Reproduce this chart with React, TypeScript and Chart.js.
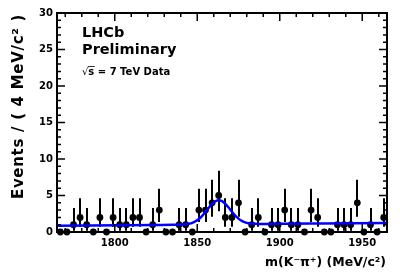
import React, { useEffect, useRef } from "react";
import { Chart, registerables } from "chart.js";

Chart.register(...registerables);

// Bin centres (MeV/c^2), 4 MeV bins from 1765 to 1965
const BIN_CENTERS = [
  1767, 1771, 1775, 1779, 1783, 1787, 1791, 1795, 1799, 1803,
  1807, 1811, 1815, 1819, 1823, 1827, 1831, 1835, 1839, 1843,
  1847, 1851, 1855, 1859, 1863, 1867, 1871, 1875, 1879, 1883,
  1887, 1891, 1895, 1899, 1903, 1907, 1911, 1915, 1919, 1923,
  1927, 1931, 1935, 1939, 1943, 1947, 1951, 1955, 1959, 1963,
];
// Events per bin
const COUNTS = [
  0, 0, 1, 2, 1, 0, 2, 0, 2, 1,
  1, 2, 2, 0, 1, 3, 0, 0, 1, 1,
  0, 3, 3, 4, 5, 2, 2, 4, 0, 1,
  2, 0, 1, 1, 3, 1, 1, 0, 3, 2,
  0, 0, 1, 1, 1, 4, 0, 1, 0, 2,
];
// Poisson interval bounds indexed by count (as drawn)
const POISSON_HI = [0, 3.3, 4.64, 5.92, 7.16, 8.38];
const POISSON_LO = [0, 0.17, 0.71, 1.37, 2.09, 2.84];

// Fit curve
const FIT_MASS = [
  1765, 1785, 1805, 1825, 1835, 1839, 1843, 1845, 1847, 1849,
  1851, 1853, 1855, 1857, 1859, 1861, 1863, 1865, 1867, 1869,
  1871, 1873, 1875, 1877, 1879, 1881, 1883, 1887, 1891, 1905,
  1925, 1945, 1965,
];
const FIT_VALUE = [
  0.85, 0.89, 0.93, 0.97, 0.99, 1.01, 1.07, 1.13, 1.25, 1.47,
  1.78, 2.22, 2.75, 3.32, 3.84, 4.21, 4.35, 4.22, 3.85, 3.35,
  2.78, 2.26, 1.83, 1.52, 1.32, 1.2, 1.15, 1.1, 1.1, 1.13,
  1.17, 1.21, 1.25,
];

const X_MIN = 1765;
const X_MAX = 1965;
const Y_MIN = 0;
const Y_MAX = 30;
const X_MAJOR = [1800, 1850, 1900, 1950];
const Y_MAJOR = [0, 5, 10, 15, 20, 25, 30];

const FONT = '"DejaVu Sans", sans-serif';

export default function App() {
  const ref = useRef<HTMLCanvasElement>(null);

  useEffect(() => {
    if (!ref.current) return;

    const errorBars = {
      id: "errorBars",
      beforeDatasetsDraw(chart: any) {
        const { ctx } = chart;
        const xs = chart.scales.x;
        const ys = chart.scales.y;
        ctx.save();
        ctx.strokeStyle = "#000";
        ctx.lineWidth = 2;
        BIN_CENTERS.forEach((m, i) => {
          const n = COUNTS[i];
          if (n <= 0) return;
          const px = Math.round(xs.getPixelForValue(m));
          ctx.beginPath();
          ctx.moveTo(px, ys.getPixelForValue(POISSON_LO[n]));
          ctx.lineTo(px, ys.getPixelForValue(POISSON_HI[n]));
          ctx.stroke();
        });
        ctx.restore();
      },
    };

    const frame = {
      id: "frame",
      afterDraw(chart: any) {
        const { ctx, chartArea: a } = chart;
        const xs = chart.scales.x;
        const ys = chart.scales.y;
        ctx.save();
        ctx.strokeStyle = "#000";
        ctx.lineWidth = 1.5;
        // minor + major ticks, inward, all four sides
        for (let v = X_MIN + 5; v < X_MAX; v += 10) {
          const px = xs.getPixelForValue(v);
          const len = X_MAJOR.includes(v) ? 8 : 4;
          ctx.beginPath();
          ctx.moveTo(px, a.bottom);
          ctx.lineTo(px, a.bottom - len);
          ctx.moveTo(px, a.top);
          ctx.lineTo(px, a.top + len);
          ctx.stroke();
        }
        for (let v = Y_MIN + 1; v < Y_MAX; v += 1) {
          const py = ys.getPixelForValue(v);
          const len = Y_MAJOR.includes(v) ? 8 : 4;
          ctx.beginPath();
          ctx.moveTo(a.left, py);
          ctx.lineTo(a.left + len, py);
          ctx.moveTo(a.right, py);
          ctx.lineTo(a.right - len, py);
          ctx.stroke();
        }
        ctx.lineWidth = 2;
        ctx.strokeRect(a.left, a.top, a.right - a.left, a.bottom - a.top);

        // texts
        ctx.fillStyle = "#000";
        ctx.textAlign = "left";
        ctx.textBaseline = "alphabetic";
        ctx.font = `bold 14.5px ${FONT}`;
        ctx.fillText("LHCb", 82, 37);
        ctx.fillText("Preliminary", 82, 54);
        ctx.font = `10px ${FONT}`;
        ctx.fillText("\u221A", 82, 75);
        const rw = ctx.measureText("\u221A").width;
        ctx.font = `bold 10px ${FONT}`;
        const sx = 82 + rw;
        ctx.fillText("s = 7 TeV Data", sx, 75);
        const sw = ctx.measureText("s").width;
        ctx.lineWidth = 0.8;
        ctx.beginPath();
        ctx.moveTo(sx - 0.5, 66.5);
        ctx.lineTo(sx + sw + 0.5, 66.5);
        ctx.stroke();

        // x title
        ctx.font = `bold 12.5px ${FONT}`;
        ctx.textAlign = "right";
        ctx.fillText("m(K\u207B\u03C0\u207A) (MeV/c\u00B2)", 386, 266);

        // y title
        ctx.save();
        ctx.translate(23, 14);
        ctx.rotate(-Math.PI / 2);
        ctx.textAlign = "right";
        ctx.font = `bold 15px ${FONT}`;
        (ctx as any).letterSpacing = "0.7px";
        ctx.fillText("Events / ( 4 MeV/c\u00B2 )", 0, 0);
        ctx.restore();
        ctx.restore();
      },
    };

    const chart = new Chart(ref.current, {
      type: "scatter",
      data: {
        datasets: [
          {
            type: "line",
            label: "fit",
            data: FIT_MASS.map((m, i) => ({ x: m, y: FIT_VALUE[i] })),
            borderColor: "#0000ff",
            borderWidth: 2.5,
            pointRadius: 0,
            cubicInterpolationMode: "monotone",
            fill: false,
            order: 0,
          } as any,
          {
            type: "scatter",
            label: "data",
            data: BIN_CENTERS.map((m, i) => ({ x: m, y: COUNTS[i] })),
            pointRadius: 3.4,
            pointBackgroundColor: "#000",
            pointBorderWidth: 0,
            clip: false,
            order: 1,
          } as any,
        ],
      },
      options: {
        animation: false,
        responsive: false,
        devicePixelRatio: 1,
        layout: { padding: { top: 13, right: 20, left: 0, bottom: 0 } },
        plugins: {
          legend: { display: false },
          tooltip: { enabled: false },
        },
        scales: {
          x: {
            type: "linear",
            min: X_MIN,
            max: X_MAX,
            grid: { display: false, drawTicks: false },
            border: { display: false },
            afterBuildTicks: (s: any) => {
              s.ticks = X_MAJOR.map((v) => ({ value: v }));
            },
            afterFit: (s: any) => {
              s.height = 44;
            },
            ticks: {
              padding: 5,
              color: "#000",
              maxRotation: 0,
              font: { family: FONT, size: 10, weight: "bold" },
              callback: (v: any) => String(v),
            },
          },
          y: {
            type: "linear",
            min: Y_MIN,
            max: Y_MAX,
            grid: { display: false, drawTicks: false },
            border: { display: false },
            afterBuildTicks: (s: any) => {
              s.ticks = Y_MAJOR.map((v) => ({ value: v }));
            },
            afterFit: (s: any) => {
              s.width = 57;
            },
            ticks: {
              padding: 4,
              color: "#000",
              font: { family: FONT, size: 10, weight: "bold" },
              callback: (v: any) => String(v),
            },
          },
        },
      },
      plugins: [errorBars, frame],
    });

    return () => chart.destroy();
  }, []);

  return (
    <div style={{ position: "absolute", left: 0, top: 0, width: 407, height: 276 }}>
      <canvas ref={ref} width={407} height={276} style={{ width: 407, height: 276 }} />
    </div>
  );
}
